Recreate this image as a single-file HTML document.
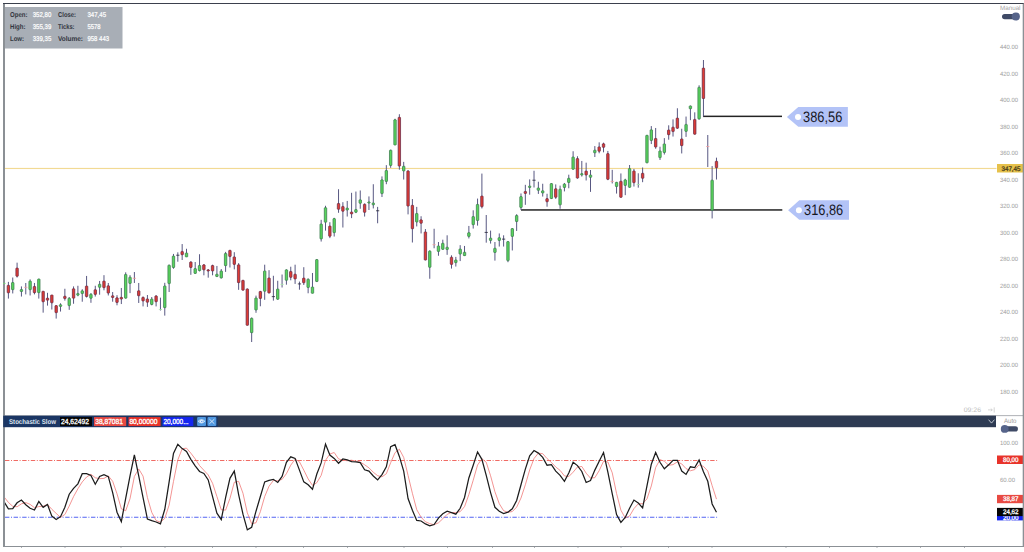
<!DOCTYPE html><html><head><meta charset="utf-8"><title>Chart</title>
<style>html,body{margin:0;padding:0;background:#fff;overflow:hidden}svg{display:block}text{font-family:"Liberation Sans",sans-serif;text-rendering:geometricPrecision}</style></head><body>
<svg width="1024" height="552" viewBox="0 0 1024 552">
<rect x="0" y="0" width="1024" height="552" fill="#ffffff"/>
<rect x="5" y="167.9" width="991.5" height="1.15" fill="#f2da94"/>
<rect x="703" y="115.6" width="79" height="1.5" fill="#242424"/>
<rect x="521" y="209.2" width="261.3" height="1.5" fill="#242424"/>
<line x1="8.40" y1="281.88" x2="8.40" y2="298.59" stroke="#585882" stroke-width="1"/>
<rect x="7.20" y="285.31" width="2.4" height="7.50" rx="0.5" fill="#e03c34" stroke="#6a2a46" stroke-width="0.75"/>
<line x1="12.74" y1="277.50" x2="12.74" y2="293.44" stroke="#585882" stroke-width="1"/>
<rect x="11.54" y="282.50" width="2.4" height="7.19" rx="0.5" fill="#58d65c" stroke="#3a7a4c" stroke-width="0.75"/>
<line x1="17.09" y1="262.66" x2="17.09" y2="277.50" stroke="#585882" stroke-width="1"/>
<rect x="15.89" y="268.12" width="2.4" height="8.12" rx="0.5" fill="#e03c34" stroke="#6a2a46" stroke-width="0.75"/>
<line x1="21.43" y1="286.41" x2="21.43" y2="296.56" stroke="#585882" stroke-width="1"/>
<rect x="20.23" y="289.53" width="2.4" height="2.03" rx="0.5" fill="#58d65c" stroke="#3a7a4c" stroke-width="0.75"/>
<line x1="25.78" y1="282.97" x2="25.78" y2="294.38" stroke="#585882" stroke-width="1"/>
<line x1="24.18" y1="287.34" x2="27.38" y2="287.34" stroke="#f29a9a" stroke-width="0.8"/>
<line x1="30.12" y1="279.38" x2="30.12" y2="295.47" stroke="#585882" stroke-width="1"/>
<rect x="28.92" y="281.09" width="2.4" height="8.59" rx="0.5" fill="#58d65c" stroke="#3a7a4c" stroke-width="0.75"/>
<line x1="34.46" y1="282.97" x2="34.46" y2="294.38" stroke="#585882" stroke-width="1"/>
<rect x="33.26" y="286.41" width="2.4" height="6.25" rx="0.5" fill="#e03c34" stroke="#6a2a46" stroke-width="0.75"/>
<line x1="38.81" y1="278.75" x2="38.81" y2="298.59" stroke="#585882" stroke-width="1"/>
<rect x="37.61" y="279.06" width="2.4" height="13.59" rx="0.5" fill="#58d65c" stroke="#3a7a4c" stroke-width="0.75"/>
<line x1="43.15" y1="291.25" x2="43.15" y2="312.66" stroke="#585882" stroke-width="1"/>
<rect x="41.95" y="291.25" width="2.4" height="10.47" rx="0.5" fill="#e03c34" stroke="#6a2a46" stroke-width="0.75"/>
<line x1="47.50" y1="292.81" x2="47.50" y2="305.62" stroke="#585882" stroke-width="1"/>
<rect x="46.30" y="298.12" width="2.4" height="2.03" rx="0.5" fill="#e03c34" stroke="#6a2a46" stroke-width="0.75"/>
<line x1="51.84" y1="295.00" x2="51.84" y2="309.53" stroke="#585882" stroke-width="1"/>
<rect x="50.64" y="295.00" width="2.4" height="7.81" rx="0.5" fill="#e03c34" stroke="#6a2a46" stroke-width="0.75"/>
<line x1="56.18" y1="305.31" x2="56.18" y2="318.59" stroke="#585882" stroke-width="1"/>
<rect x="54.98" y="305.62" width="2.4" height="7.03" rx="0.5" fill="#e03c34" stroke="#6a2a46" stroke-width="0.75"/>
<line x1="60.53" y1="303.28" x2="60.53" y2="311.56" stroke="#585882" stroke-width="1"/>
<rect x="59.33" y="304.69" width="2.4" height="1.72" rx="0.5" fill="#58d65c" stroke="#3a7a4c" stroke-width="0.75"/>
<line x1="64.87" y1="288.75" x2="64.87" y2="300.62" stroke="#585882" stroke-width="1"/>
<rect x="63.67" y="296.25" width="2.4" height="2.34" rx="0.5" fill="#e03c34" stroke="#6a2a46" stroke-width="0.75"/>
<line x1="69.22" y1="297.03" x2="69.22" y2="309.84" stroke="#585882" stroke-width="1"/>
<rect x="68.02" y="298.28" width="2.4" height="7.34" rx="0.5" fill="#58d65c" stroke="#3a7a4c" stroke-width="0.75"/>
<line x1="73.56" y1="286.41" x2="73.56" y2="303.75" stroke="#585882" stroke-width="1"/>
<rect x="72.36" y="288.75" width="2.4" height="9.38" rx="0.5" fill="#e03c34" stroke="#6a2a46" stroke-width="0.75"/>
<line x1="77.90" y1="285.78" x2="77.90" y2="296.25" stroke="#585882" stroke-width="1"/>
<rect x="76.70" y="293.44" width="2.4" height="1.72" rx="0.5" fill="#58d65c" stroke="#3a7a4c" stroke-width="0.75"/>
<line x1="82.25" y1="289.22" x2="82.25" y2="301.72" stroke="#585882" stroke-width="1"/>
<rect x="81.05" y="290.78" width="2.4" height="2.81" rx="0.5" fill="#58d65c" stroke="#3a7a4c" stroke-width="0.75"/>
<line x1="86.59" y1="275.94" x2="86.59" y2="297.50" stroke="#585882" stroke-width="1"/>
<rect x="85.39" y="286.09" width="2.4" height="10.47" rx="0.5" fill="#e03c34" stroke="#6a2a46" stroke-width="0.75"/>
<line x1="90.94" y1="293.12" x2="90.94" y2="302.81" stroke="#585882" stroke-width="1"/>
<rect x="89.74" y="294.22" width="2.4" height="4.06" rx="0.5" fill="#58d65c" stroke="#3a7a4c" stroke-width="0.75"/>
<line x1="95.28" y1="285.78" x2="95.28" y2="296.56" stroke="#585882" stroke-width="1"/>
<rect x="94.08" y="289.69" width="2.4" height="4.69" rx="0.5" fill="#e03c34" stroke="#6a2a46" stroke-width="0.75"/>
<line x1="99.62" y1="280.94" x2="99.62" y2="294.69" stroke="#585882" stroke-width="1"/>
<rect x="98.42" y="284.22" width="2.4" height="3.12" rx="0.5" fill="#58d65c" stroke="#3a7a4c" stroke-width="0.75"/>
<line x1="103.97" y1="275.16" x2="103.97" y2="290.31" stroke="#585882" stroke-width="1"/>
<rect x="102.77" y="281.09" width="2.4" height="6.56" rx="0.5" fill="#e03c34" stroke="#6a2a46" stroke-width="0.75"/>
<line x1="108.31" y1="282.97" x2="108.31" y2="295.47" stroke="#585882" stroke-width="1"/>
<rect x="107.11" y="285.78" width="2.4" height="7.34" rx="0.5" fill="#e03c34" stroke="#6a2a46" stroke-width="0.75"/>
<line x1="112.66" y1="292.03" x2="112.66" y2="301.72" stroke="#585882" stroke-width="1"/>
<rect x="111.46" y="295.78" width="2.4" height="1.72" rx="0.5" fill="#e03c34" stroke="#6a2a46" stroke-width="0.75"/>
<line x1="117.00" y1="295.16" x2="117.00" y2="305.31" stroke="#585882" stroke-width="1"/>
<rect x="115.80" y="297.81" width="2.4" height="4.69" rx="0.5" fill="#e03c34" stroke="#6a2a46" stroke-width="0.75"/>
<line x1="121.34" y1="287.97" x2="121.34" y2="304.06" stroke="#585882" stroke-width="1"/>
<rect x="120.14" y="297.34" width="2.4" height="1.72" rx="0.5" fill="#e03c34" stroke="#6a2a46" stroke-width="0.75"/>
<line x1="125.69" y1="272.34" x2="125.69" y2="298.59" stroke="#585882" stroke-width="1"/>
<rect x="124.49" y="274.38" width="2.4" height="23.75" rx="0.5" fill="#58d65c" stroke="#3a7a4c" stroke-width="0.75"/>
<line x1="130.03" y1="275.16" x2="130.03" y2="293.12" stroke="#585882" stroke-width="1"/>
<rect x="128.83" y="277.19" width="2.4" height="6.25" rx="0.5" fill="#58d65c" stroke="#3a7a4c" stroke-width="0.75"/>
<line x1="134.38" y1="272.03" x2="134.38" y2="282.97" stroke="#585882" stroke-width="1"/>
<line x1="132.78" y1="278.28" x2="135.98" y2="278.28" stroke="#f29a9a" stroke-width="0.8"/>
<line x1="138.72" y1="282.97" x2="138.72" y2="302.97" stroke="#585882" stroke-width="1"/>
<rect x="137.52" y="290.78" width="2.4" height="5.00" rx="0.5" fill="#e03c34" stroke="#6a2a46" stroke-width="0.75"/>
<line x1="143.06" y1="296.56" x2="143.06" y2="306.41" stroke="#585882" stroke-width="1"/>
<rect x="141.86" y="297.34" width="2.4" height="3.59" rx="0.5" fill="#e03c34" stroke="#6a2a46" stroke-width="0.75"/>
<line x1="147.41" y1="295.00" x2="147.41" y2="306.88" stroke="#585882" stroke-width="1"/>
<rect x="146.21" y="298.91" width="2.4" height="3.28" rx="0.5" fill="#e03c34" stroke="#6a2a46" stroke-width="0.75"/>
<line x1="151.75" y1="297.03" x2="151.75" y2="305.31" stroke="#585882" stroke-width="1"/>
<rect x="150.55" y="299.06" width="2.4" height="5.47" rx="0.5" fill="#58d65c" stroke="#3a7a4c" stroke-width="0.75"/>
<line x1="156.10" y1="295.16" x2="156.10" y2="306.41" stroke="#585882" stroke-width="1"/>
<rect x="154.90" y="295.94" width="2.4" height="5.78" rx="0.5" fill="#e03c34" stroke="#6a2a46" stroke-width="0.75"/>
<line x1="160.44" y1="297.66" x2="160.44" y2="310.47" stroke="#585882" stroke-width="1"/>
<line x1="158.84" y1="309.53" x2="162.04" y2="309.53" stroke="#a6e8a6" stroke-width="0.8"/>
<line x1="164.78" y1="282.81" x2="164.78" y2="315.62" stroke="#585882" stroke-width="1"/>
<rect x="163.58" y="285.94" width="2.4" height="21.72" rx="0.5" fill="#58d65c" stroke="#3a7a4c" stroke-width="0.75"/>
<line x1="169.13" y1="264.69" x2="169.13" y2="292.03" stroke="#585882" stroke-width="1"/>
<rect x="167.93" y="265.16" width="2.4" height="18.44" rx="0.5" fill="#58d65c" stroke="#3a7a4c" stroke-width="0.75"/>
<line x1="173.47" y1="253.91" x2="173.47" y2="268.75" stroke="#585882" stroke-width="1"/>
<rect x="172.27" y="256.09" width="2.4" height="11.41" rx="0.5" fill="#58d65c" stroke="#3a7a4c" stroke-width="0.75"/>
<line x1="177.82" y1="252.34" x2="177.82" y2="261.72" stroke="#585882" stroke-width="1"/>
<line x1="176.22" y1="255.23" x2="179.42" y2="255.23" stroke="#222233" stroke-width="0.8"/>
<line x1="182.16" y1="244.06" x2="182.16" y2="260.00" stroke="#585882" stroke-width="1"/>
<rect x="180.96" y="251.41" width="2.4" height="3.28" rx="0.5" fill="#e03c34" stroke="#6a2a46" stroke-width="0.75"/>
<line x1="186.50" y1="248.75" x2="186.50" y2="256.88" stroke="#585882" stroke-width="1"/>
<rect x="185.30" y="252.97" width="2.4" height="3.91" rx="0.5" fill="#58d65c" stroke="#3a7a4c" stroke-width="0.75"/>
<line x1="190.85" y1="261.25" x2="190.85" y2="274.84" stroke="#585882" stroke-width="1"/>
<rect x="189.65" y="262.03" width="2.4" height="5.47" rx="0.5" fill="#e03c34" stroke="#6a2a46" stroke-width="0.75"/>
<line x1="195.19" y1="262.03" x2="195.19" y2="273.75" stroke="#585882" stroke-width="1"/>
<rect x="193.99" y="268.59" width="2.4" height="4.84" rx="0.5" fill="#58d65c" stroke="#3a7a4c" stroke-width="0.75"/>
<line x1="199.54" y1="254.22" x2="199.54" y2="271.41" stroke="#585882" stroke-width="1"/>
<rect x="198.34" y="265.47" width="2.4" height="5.16" rx="0.5" fill="#58d65c" stroke="#3a7a4c" stroke-width="0.75"/>
<line x1="203.88" y1="264.06" x2="203.88" y2="275.31" stroke="#585882" stroke-width="1"/>
<rect x="202.68" y="264.84" width="2.4" height="5.00" rx="0.5" fill="#e03c34" stroke="#6a2a46" stroke-width="0.75"/>
<line x1="208.22" y1="269.06" x2="208.22" y2="277.66" stroke="#585882" stroke-width="1"/>
<rect x="207.02" y="269.84" width="2.4" height="1.20" rx="0.5" fill="#e03c34" stroke="#6a2a46" stroke-width="0.75"/>
<line x1="212.57" y1="264.69" x2="212.57" y2="275.31" stroke="#585882" stroke-width="1"/>
<rect x="211.37" y="265.47" width="2.4" height="5.47" rx="0.5" fill="#e03c34" stroke="#6a2a46" stroke-width="0.75"/>
<line x1="216.91" y1="265.94" x2="216.91" y2="276.88" stroke="#585882" stroke-width="1"/>
<rect x="215.71" y="274.22" width="2.4" height="2.34" rx="0.5" fill="#58d65c" stroke="#3a7a4c" stroke-width="0.75"/>
<line x1="221.26" y1="269.06" x2="221.26" y2="278.44" stroke="#585882" stroke-width="1"/>
<rect x="220.06" y="270.94" width="2.4" height="7.03" rx="0.5" fill="#58d65c" stroke="#3a7a4c" stroke-width="0.75"/>
<line x1="225.60" y1="251.88" x2="225.60" y2="271.88" stroke="#585882" stroke-width="1"/>
<rect x="224.40" y="253.44" width="2.4" height="12.19" rx="0.5" fill="#58d65c" stroke="#3a7a4c" stroke-width="0.75"/>
<line x1="229.94" y1="250.00" x2="229.94" y2="267.50" stroke="#585882" stroke-width="1"/>
<rect x="228.74" y="250.31" width="2.4" height="6.25" rx="0.5" fill="#e03c34" stroke="#6a2a46" stroke-width="0.75"/>
<line x1="234.29" y1="252.19" x2="234.29" y2="269.38" stroke="#585882" stroke-width="1"/>
<rect x="233.09" y="256.88" width="2.4" height="7.50" rx="0.5" fill="#e03c34" stroke="#6a2a46" stroke-width="0.75"/>
<line x1="238.63" y1="263.12" x2="238.63" y2="289.84" stroke="#585882" stroke-width="1"/>
<rect x="237.43" y="264.84" width="2.4" height="17.81" rx="0.5" fill="#e03c34" stroke="#6a2a46" stroke-width="0.75"/>
<line x1="242.98" y1="280.00" x2="242.98" y2="290.47" stroke="#585882" stroke-width="1"/>
<rect x="241.78" y="280.31" width="2.4" height="9.84" rx="0.5" fill="#e03c34" stroke="#6a2a46" stroke-width="0.75"/>
<line x1="247.32" y1="288.59" x2="247.32" y2="325.31" stroke="#585882" stroke-width="1"/>
<rect x="246.12" y="288.91" width="2.4" height="36.41" rx="0.5" fill="#e03c34" stroke="#6a2a46" stroke-width="0.75"/>
<line x1="251.66" y1="317.50" x2="251.66" y2="342.03" stroke="#585882" stroke-width="1"/>
<rect x="250.46" y="318.28" width="2.4" height="14.38" rx="0.5" fill="#58d65c" stroke="#3a7a4c" stroke-width="0.75"/>
<line x1="256.01" y1="295.62" x2="256.01" y2="312.81" stroke="#585882" stroke-width="1"/>
<rect x="254.81" y="297.97" width="2.4" height="12.03" rx="0.5" fill="#58d65c" stroke="#3a7a4c" stroke-width="0.75"/>
<line x1="260.35" y1="290.94" x2="260.35" y2="306.25" stroke="#585882" stroke-width="1"/>
<rect x="259.15" y="291.41" width="2.4" height="7.03" rx="0.5" fill="#e03c34" stroke="#6a2a46" stroke-width="0.75"/>
<line x1="264.70" y1="264.69" x2="264.70" y2="299.84" stroke="#585882" stroke-width="1"/>
<rect x="263.50" y="270.94" width="2.4" height="20.31" rx="0.5" fill="#58d65c" stroke="#3a7a4c" stroke-width="0.75"/>
<line x1="269.04" y1="270.16" x2="269.04" y2="293.28" stroke="#585882" stroke-width="1"/>
<rect x="267.84" y="277.97" width="2.4" height="15.00" rx="0.5" fill="#e03c34" stroke="#6a2a46" stroke-width="0.75"/>
<line x1="273.38" y1="275.78" x2="273.38" y2="300.62" stroke="#585882" stroke-width="1"/>
<line x1="271.78" y1="296.64" x2="274.98" y2="296.64" stroke="#222233" stroke-width="0.8"/>
<line x1="277.73" y1="280.78" x2="277.73" y2="299.84" stroke="#585882" stroke-width="1"/>
<rect x="276.53" y="289.06" width="2.4" height="10.16" rx="0.5" fill="#58d65c" stroke="#3a7a4c" stroke-width="0.75"/>
<line x1="282.07" y1="274.53" x2="282.07" y2="287.50" stroke="#585882" stroke-width="1"/>
<line x1="280.47" y1="284.38" x2="283.67" y2="284.38" stroke="#a6e8a6" stroke-width="0.8"/>
<line x1="286.42" y1="269.38" x2="286.42" y2="284.69" stroke="#585882" stroke-width="1"/>
<rect x="285.22" y="269.84" width="2.4" height="10.47" rx="0.5" fill="#58d65c" stroke="#3a7a4c" stroke-width="0.75"/>
<line x1="290.76" y1="266.72" x2="290.76" y2="280.31" stroke="#585882" stroke-width="1"/>
<rect x="289.56" y="271.41" width="2.4" height="5.94" rx="0.5" fill="#e03c34" stroke="#6a2a46" stroke-width="0.75"/>
<line x1="295.10" y1="264.69" x2="295.10" y2="283.91" stroke="#585882" stroke-width="1"/>
<rect x="293.90" y="274.22" width="2.4" height="4.69" rx="0.5" fill="#e03c34" stroke="#6a2a46" stroke-width="0.75"/>
<line x1="299.45" y1="281.56" x2="299.45" y2="289.69" stroke="#585882" stroke-width="1"/>
<line x1="297.85" y1="283.91" x2="301.05" y2="283.91" stroke="#222233" stroke-width="0.8"/>
<line x1="303.79" y1="267.19" x2="303.79" y2="285.00" stroke="#585882" stroke-width="1"/>
<rect x="302.59" y="278.12" width="2.4" height="4.69" rx="0.5" fill="#e03c34" stroke="#6a2a46" stroke-width="0.75"/>
<line x1="308.14" y1="278.44" x2="308.14" y2="293.28" stroke="#585882" stroke-width="1"/>
<rect x="306.94" y="279.22" width="2.4" height="8.28" rx="0.5" fill="#58d65c" stroke="#3a7a4c" stroke-width="0.75"/>
<line x1="312.48" y1="272.97" x2="312.48" y2="293.28" stroke="#585882" stroke-width="1"/>
<rect x="311.28" y="287.03" width="2.4" height="6.25" rx="0.5" fill="#58d65c" stroke="#3a7a4c" stroke-width="0.75"/>
<line x1="316.82" y1="259.22" x2="316.82" y2="281.88" stroke="#585882" stroke-width="1"/>
<rect x="315.62" y="259.53" width="2.4" height="22.03" rx="0.5" fill="#58d65c" stroke="#3a7a4c" stroke-width="0.75"/>
<line x1="321.17" y1="219.84" x2="321.17" y2="241.56" stroke="#585882" stroke-width="1"/>
<rect x="319.97" y="224.06" width="2.4" height="14.84" rx="0.5" fill="#58d65c" stroke="#3a7a4c" stroke-width="0.75"/>
<line x1="325.51" y1="205.78" x2="325.51" y2="230.62" stroke="#585882" stroke-width="1"/>
<rect x="324.31" y="207.66" width="2.4" height="14.53" rx="0.5" fill="#58d65c" stroke="#3a7a4c" stroke-width="0.75"/>
<line x1="329.86" y1="222.19" x2="329.86" y2="238.12" stroke="#585882" stroke-width="1"/>
<rect x="328.66" y="226.09" width="2.4" height="10.16" rx="0.5" fill="#e03c34" stroke="#6a2a46" stroke-width="0.75"/>
<line x1="334.20" y1="217.81" x2="334.20" y2="236.56" stroke="#585882" stroke-width="1"/>
<rect x="333.00" y="218.59" width="2.4" height="14.06" rx="0.5" fill="#58d65c" stroke="#3a7a4c" stroke-width="0.75"/>
<line x1="338.54" y1="189.22" x2="338.54" y2="212.81" stroke="#585882" stroke-width="1"/>
<rect x="337.34" y="203.44" width="2.4" height="5.78" rx="0.5" fill="#e03c34" stroke="#6a2a46" stroke-width="0.75"/>
<line x1="342.89" y1="202.19" x2="342.89" y2="227.50" stroke="#585882" stroke-width="1"/>
<rect x="341.69" y="206.41" width="2.4" height="4.84" rx="0.5" fill="#e03c34" stroke="#6a2a46" stroke-width="0.75"/>
<line x1="347.23" y1="200.94" x2="347.23" y2="216.56" stroke="#585882" stroke-width="1"/>
<rect x="346.03" y="208.12" width="2.4" height="1.88" rx="0.5" fill="#58d65c" stroke="#3a7a4c" stroke-width="0.75"/>
<line x1="351.58" y1="192.81" x2="351.58" y2="218.12" stroke="#585882" stroke-width="1"/>
<rect x="350.38" y="212.03" width="2.4" height="1.88" rx="0.5" fill="#e03c34" stroke="#6a2a46" stroke-width="0.75"/>
<line x1="355.92" y1="191.56" x2="355.92" y2="213.12" stroke="#585882" stroke-width="1"/>
<rect x="354.72" y="209.53" width="2.4" height="2.81" rx="0.5" fill="#58d65c" stroke="#3a7a4c" stroke-width="0.75"/>
<line x1="360.26" y1="190.47" x2="360.26" y2="208.75" stroke="#585882" stroke-width="1"/>
<rect x="359.06" y="199.84" width="2.4" height="3.44" rx="0.5" fill="#58d65c" stroke="#3a7a4c" stroke-width="0.75"/>
<line x1="364.61" y1="203.44" x2="364.61" y2="216.56" stroke="#585882" stroke-width="1"/>
<rect x="363.41" y="204.22" width="2.4" height="8.12" rx="0.5" fill="#e03c34" stroke="#6a2a46" stroke-width="0.75"/>
<line x1="368.95" y1="196.41" x2="368.95" y2="210.00" stroke="#585882" stroke-width="1"/>
<rect x="367.75" y="201.88" width="2.4" height="1.20" rx="0.5" fill="#58d65c" stroke="#3a7a4c" stroke-width="0.75"/>
<line x1="373.30" y1="184.22" x2="373.30" y2="208.44" stroke="#585882" stroke-width="1"/>
<rect x="372.10" y="202.97" width="2.4" height="1.88" rx="0.5" fill="#58d65c" stroke="#3a7a4c" stroke-width="0.75"/>
<line x1="377.64" y1="206.88" x2="377.64" y2="223.28" stroke="#585882" stroke-width="1"/>
<line x1="376.04" y1="210.78" x2="379.24" y2="210.78" stroke="#222233" stroke-width="0.8"/>
<line x1="381.98" y1="176.41" x2="381.98" y2="197.03" stroke="#585882" stroke-width="1"/>
<rect x="380.78" y="179.84" width="2.4" height="13.75" rx="0.5" fill="#58d65c" stroke="#3a7a4c" stroke-width="0.75"/>
<line x1="386.33" y1="165.16" x2="386.33" y2="184.22" stroke="#585882" stroke-width="1"/>
<rect x="385.13" y="170.47" width="2.4" height="10.94" rx="0.5" fill="#58d65c" stroke="#3a7a4c" stroke-width="0.75"/>
<line x1="390.67" y1="149.69" x2="390.67" y2="167.81" stroke="#585882" stroke-width="1"/>
<rect x="389.47" y="150.16" width="2.4" height="15.31" rx="0.5" fill="#58d65c" stroke="#3a7a4c" stroke-width="0.75"/>
<line x1="395.02" y1="118.75" x2="395.02" y2="145.00" stroke="#585882" stroke-width="1"/>
<rect x="393.82" y="119.69" width="2.4" height="25.31" rx="0.5" fill="#58d65c" stroke="#3a7a4c" stroke-width="0.75"/>
<line x1="399.36" y1="114.22" x2="399.36" y2="169.69" stroke="#585882" stroke-width="1"/>
<rect x="398.16" y="117.34" width="2.4" height="48.75" rx="0.5" fill="#e03c34" stroke="#6a2a46" stroke-width="0.75"/>
<line x1="403.70" y1="161.88" x2="403.70" y2="179.53" stroke="#585882" stroke-width="1"/>
<rect x="402.50" y="166.25" width="2.4" height="4.69" rx="0.5" fill="#58d65c" stroke="#3a7a4c" stroke-width="0.75"/>
<line x1="408.05" y1="170.16" x2="408.05" y2="214.38" stroke="#585882" stroke-width="1"/>
<rect x="406.85" y="170.94" width="2.4" height="35.16" rx="0.5" fill="#e03c34" stroke="#6a2a46" stroke-width="0.75"/>
<line x1="412.39" y1="199.06" x2="412.39" y2="242.50" stroke="#585882" stroke-width="1"/>
<rect x="411.19" y="205.31" width="2.4" height="23.44" rx="0.5" fill="#e03c34" stroke="#6a2a46" stroke-width="0.75"/>
<line x1="416.74" y1="206.88" x2="416.74" y2="226.41" stroke="#585882" stroke-width="1"/>
<rect x="415.54" y="213.44" width="2.4" height="8.59" rx="0.5" fill="#58d65c" stroke="#3a7a4c" stroke-width="0.75"/>
<line x1="421.08" y1="216.25" x2="421.08" y2="233.44" stroke="#585882" stroke-width="1"/>
<rect x="419.88" y="219.84" width="2.4" height="3.44" rx="0.5" fill="#e03c34" stroke="#6a2a46" stroke-width="0.75"/>
<line x1="425.42" y1="229.06" x2="425.42" y2="260.31" stroke="#585882" stroke-width="1"/>
<rect x="424.22" y="231.88" width="2.4" height="28.12" rx="0.5" fill="#e03c34" stroke="#6a2a46" stroke-width="0.75"/>
<line x1="429.77" y1="250.31" x2="429.77" y2="278.75" stroke="#585882" stroke-width="1"/>
<rect x="428.57" y="251.09" width="2.4" height="16.25" rx="0.5" fill="#58d65c" stroke="#3a7a4c" stroke-width="0.75"/>
<line x1="434.11" y1="228.75" x2="434.11" y2="248.28" stroke="#585882" stroke-width="1"/>
<line x1="432.51" y1="244.69" x2="435.71" y2="244.69" stroke="#f29a9a" stroke-width="0.8"/>
<line x1="438.46" y1="242.03" x2="438.46" y2="255.78" stroke="#585882" stroke-width="1"/>
<rect x="437.26" y="245.94" width="2.4" height="5.47" rx="0.5" fill="#58d65c" stroke="#3a7a4c" stroke-width="0.75"/>
<line x1="442.80" y1="239.69" x2="442.80" y2="249.84" stroke="#585882" stroke-width="1"/>
<rect x="441.60" y="243.28" width="2.4" height="6.09" rx="0.5" fill="#58d65c" stroke="#3a7a4c" stroke-width="0.75"/>
<line x1="447.14" y1="235.31" x2="447.14" y2="254.84" stroke="#585882" stroke-width="1"/>
<rect x="445.94" y="247.19" width="2.4" height="2.34" rx="0.5" fill="#58d65c" stroke="#3a7a4c" stroke-width="0.75"/>
<line x1="451.49" y1="255.31" x2="451.49" y2="268.59" stroke="#585882" stroke-width="1"/>
<rect x="450.29" y="257.19" width="2.4" height="7.19" rx="0.5" fill="#e03c34" stroke="#6a2a46" stroke-width="0.75"/>
<line x1="455.83" y1="256.88" x2="455.83" y2="266.56" stroke="#585882" stroke-width="1"/>
<rect x="454.63" y="260.00" width="2.4" height="2.66" rx="0.5" fill="#58d65c" stroke="#3a7a4c" stroke-width="0.75"/>
<line x1="460.18" y1="245.16" x2="460.18" y2="261.09" stroke="#585882" stroke-width="1"/>
<rect x="458.98" y="249.06" width="2.4" height="5.00" rx="0.5" fill="#58d65c" stroke="#3a7a4c" stroke-width="0.75"/>
<line x1="464.52" y1="245.94" x2="464.52" y2="255.62" stroke="#585882" stroke-width="1"/>
<rect x="463.32" y="252.19" width="2.4" height="3.44" rx="0.5" fill="#58d65c" stroke="#3a7a4c" stroke-width="0.75"/>
<line x1="468.86" y1="225.94" x2="468.86" y2="238.44" stroke="#585882" stroke-width="1"/>
<rect x="467.66" y="232.66" width="2.4" height="3.75" rx="0.5" fill="#58d65c" stroke="#3a7a4c" stroke-width="0.75"/>
<line x1="473.21" y1="210.31" x2="473.21" y2="228.59" stroke="#585882" stroke-width="1"/>
<rect x="472.01" y="216.56" width="2.4" height="8.12" rx="0.5" fill="#58d65c" stroke="#3a7a4c" stroke-width="0.75"/>
<line x1="477.55" y1="198.59" x2="477.55" y2="225.62" stroke="#585882" stroke-width="1"/>
<rect x="476.35" y="204.38" width="2.4" height="16.09" rx="0.5" fill="#58d65c" stroke="#3a7a4c" stroke-width="0.75"/>
<line x1="481.90" y1="173.59" x2="481.90" y2="208.44" stroke="#585882" stroke-width="1"/>
<rect x="480.70" y="196.09" width="2.4" height="10.62" rx="0.5" fill="#e03c34" stroke="#6a2a46" stroke-width="0.75"/>
<line x1="486.24" y1="215.00" x2="486.24" y2="242.66" stroke="#585882" stroke-width="1"/>
<line x1="484.64" y1="232.42" x2="487.84" y2="232.42" stroke="#222233" stroke-width="0.8"/>
<line x1="490.58" y1="230.62" x2="490.58" y2="243.59" stroke="#585882" stroke-width="1"/>
<rect x="489.38" y="238.12" width="2.4" height="2.34" rx="0.5" fill="#58d65c" stroke="#3a7a4c" stroke-width="0.75"/>
<line x1="494.93" y1="242.03" x2="494.93" y2="260.62" stroke="#585882" stroke-width="1"/>
<rect x="493.73" y="248.28" width="2.4" height="4.22" rx="0.5" fill="#58d65c" stroke="#3a7a4c" stroke-width="0.75"/>
<line x1="499.27" y1="233.44" x2="499.27" y2="246.56" stroke="#585882" stroke-width="1"/>
<rect x="498.07" y="237.66" width="2.4" height="2.81" rx="0.5" fill="#58d65c" stroke="#3a7a4c" stroke-width="0.75"/>
<line x1="503.62" y1="235.31" x2="503.62" y2="246.56" stroke="#585882" stroke-width="1"/>
<line x1="502.02" y1="239.14" x2="505.22" y2="239.14" stroke="#222233" stroke-width="0.8"/>
<line x1="507.96" y1="241.25" x2="507.96" y2="262.19" stroke="#585882" stroke-width="1"/>
<rect x="506.76" y="241.56" width="2.4" height="19.06" rx="0.5" fill="#58d65c" stroke="#3a7a4c" stroke-width="0.75"/>
<line x1="512.30" y1="228.28" x2="512.30" y2="250.47" stroke="#585882" stroke-width="1"/>
<rect x="511.10" y="228.59" width="2.4" height="7.81" rx="0.5" fill="#58d65c" stroke="#3a7a4c" stroke-width="0.75"/>
<line x1="516.65" y1="214.22" x2="516.65" y2="230.94" stroke="#585882" stroke-width="1"/>
<rect x="515.45" y="215.47" width="2.4" height="6.09" rx="0.5" fill="#58d65c" stroke="#3a7a4c" stroke-width="0.75"/>
<line x1="520.99" y1="193.44" x2="520.99" y2="210.00" stroke="#585882" stroke-width="1"/>
<rect x="519.79" y="196.56" width="2.4" height="10.94" rx="0.5" fill="#58d65c" stroke="#3a7a4c" stroke-width="0.75"/>
<line x1="525.34" y1="184.84" x2="525.34" y2="204.84" stroke="#585882" stroke-width="1"/>
<rect x="524.14" y="191.41" width="2.4" height="2.03" rx="0.5" fill="#e03c34" stroke="#6a2a46" stroke-width="0.75"/>
<line x1="529.68" y1="179.38" x2="529.68" y2="194.69" stroke="#585882" stroke-width="1"/>
<rect x="528.48" y="186.09" width="2.4" height="1.41" rx="0.5" fill="#58d65c" stroke="#3a7a4c" stroke-width="0.75"/>
<line x1="534.02" y1="170.78" x2="534.02" y2="187.50" stroke="#585882" stroke-width="1"/>
<line x1="532.42" y1="180.23" x2="535.62" y2="180.23" stroke="#222233" stroke-width="0.8"/>
<line x1="538.37" y1="181.72" x2="538.37" y2="193.91" stroke="#585882" stroke-width="1"/>
<rect x="537.17" y="187.97" width="2.4" height="2.34" rx="0.5" fill="#58d65c" stroke="#3a7a4c" stroke-width="0.75"/>
<line x1="542.71" y1="183.75" x2="542.71" y2="196.56" stroke="#585882" stroke-width="1"/>
<rect x="541.51" y="190.78" width="2.4" height="2.19" rx="0.5" fill="#58d65c" stroke="#3a7a4c" stroke-width="0.75"/>
<line x1="547.06" y1="193.75" x2="547.06" y2="206.72" stroke="#585882" stroke-width="1"/>
<rect x="545.86" y="198.59" width="2.4" height="3.12" rx="0.5" fill="#e03c34" stroke="#6a2a46" stroke-width="0.75"/>
<line x1="551.40" y1="183.28" x2="551.40" y2="198.91" stroke="#585882" stroke-width="1"/>
<rect x="550.20" y="183.59" width="2.4" height="15.00" rx="0.5" fill="#58d65c" stroke="#3a7a4c" stroke-width="0.75"/>
<line x1="555.74" y1="184.38" x2="555.74" y2="198.91" stroke="#585882" stroke-width="1"/>
<rect x="554.54" y="188.75" width="2.4" height="8.59" rx="0.5" fill="#e03c34" stroke="#6a2a46" stroke-width="0.75"/>
<line x1="560.09" y1="185.62" x2="560.09" y2="208.75" stroke="#585882" stroke-width="1"/>
<rect x="558.89" y="189.22" width="2.4" height="15.62" rx="0.5" fill="#58d65c" stroke="#3a7a4c" stroke-width="0.75"/>
<line x1="564.43" y1="182.97" x2="564.43" y2="191.41" stroke="#585882" stroke-width="1"/>
<rect x="563.23" y="184.06" width="2.4" height="3.44" rx="0.5" fill="#58d65c" stroke="#3a7a4c" stroke-width="0.75"/>
<line x1="568.78" y1="174.69" x2="568.78" y2="188.28" stroke="#585882" stroke-width="1"/>
<rect x="567.58" y="178.28" width="2.4" height="4.22" rx="0.5" fill="#58d65c" stroke="#3a7a4c" stroke-width="0.75"/>
<line x1="573.12" y1="151.25" x2="573.12" y2="169.69" stroke="#585882" stroke-width="1"/>
<rect x="571.92" y="157.03" width="2.4" height="12.19" rx="0.5" fill="#58d65c" stroke="#3a7a4c" stroke-width="0.75"/>
<line x1="577.46" y1="156.25" x2="577.46" y2="178.59" stroke="#585882" stroke-width="1"/>
<rect x="576.26" y="158.59" width="2.4" height="19.53" rx="0.5" fill="#e03c34" stroke="#6a2a46" stroke-width="0.75"/>
<line x1="581.81" y1="160.94" x2="581.81" y2="176.56" stroke="#585882" stroke-width="1"/>
<rect x="580.61" y="173.59" width="2.4" height="1.41" rx="0.5" fill="#58d65c" stroke="#3a7a4c" stroke-width="0.75"/>
<line x1="586.15" y1="162.66" x2="586.15" y2="180.47" stroke="#585882" stroke-width="1"/>
<rect x="584.95" y="171.09" width="2.4" height="3.91" rx="0.5" fill="#e03c34" stroke="#6a2a46" stroke-width="0.75"/>
<line x1="590.50" y1="170.00" x2="590.50" y2="191.88" stroke="#585882" stroke-width="1"/>
<rect x="589.30" y="175.00" width="2.4" height="2.34" rx="0.5" fill="#58d65c" stroke="#3a7a4c" stroke-width="0.75"/>
<line x1="594.84" y1="146.09" x2="594.84" y2="157.03" stroke="#585882" stroke-width="1"/>
<rect x="593.64" y="150.16" width="2.4" height="2.66" rx="0.5" fill="#58d65c" stroke="#3a7a4c" stroke-width="0.75"/>
<line x1="599.18" y1="142.34" x2="599.18" y2="153.28" stroke="#585882" stroke-width="1"/>
<rect x="597.98" y="146.88" width="2.4" height="4.38" rx="0.5" fill="#e03c34" stroke="#6a2a46" stroke-width="0.75"/>
<line x1="603.53" y1="142.66" x2="603.53" y2="152.34" stroke="#585882" stroke-width="1"/>
<rect x="602.33" y="143.75" width="2.4" height="3.59" rx="0.5" fill="#e03c34" stroke="#6a2a46" stroke-width="0.75"/>
<line x1="607.87" y1="150.94" x2="607.87" y2="180.16" stroke="#585882" stroke-width="1"/>
<rect x="606.67" y="153.59" width="2.4" height="25.78" rx="0.5" fill="#e03c34" stroke="#6a2a46" stroke-width="0.75"/>
<line x1="612.22" y1="169.84" x2="612.22" y2="183.44" stroke="#585882" stroke-width="1"/>
<line x1="610.62" y1="181.41" x2="613.82" y2="181.41" stroke="#f29a9a" stroke-width="0.8"/>
<line x1="616.56" y1="181.88" x2="616.56" y2="193.59" stroke="#585882" stroke-width="1"/>
<rect x="615.36" y="182.34" width="2.4" height="4.22" rx="0.5" fill="#58d65c" stroke="#3a7a4c" stroke-width="0.75"/>
<line x1="620.90" y1="173.44" x2="620.90" y2="197.66" stroke="#585882" stroke-width="1"/>
<rect x="619.70" y="181.25" width="2.4" height="16.09" rx="0.5" fill="#e03c34" stroke="#6a2a46" stroke-width="0.75"/>
<line x1="625.25" y1="178.75" x2="625.25" y2="195.16" stroke="#585882" stroke-width="1"/>
<rect x="624.05" y="179.84" width="2.4" height="5.62" rx="0.5" fill="#58d65c" stroke="#3a7a4c" stroke-width="0.75"/>
<line x1="629.59" y1="165.00" x2="629.59" y2="187.66" stroke="#585882" stroke-width="1"/>
<rect x="628.39" y="168.59" width="2.4" height="18.75" rx="0.5" fill="#58d65c" stroke="#3a7a4c" stroke-width="0.75"/>
<line x1="633.94" y1="168.91" x2="633.94" y2="186.56" stroke="#585882" stroke-width="1"/>
<rect x="632.74" y="170.94" width="2.4" height="11.72" rx="0.5" fill="#e03c34" stroke="#6a2a46" stroke-width="0.75"/>
<line x1="638.28" y1="173.28" x2="638.28" y2="187.66" stroke="#585882" stroke-width="1"/>
<line x1="636.68" y1="184.53" x2="639.88" y2="184.53" stroke="#a6e8a6" stroke-width="0.8"/>
<line x1="642.62" y1="167.50" x2="642.62" y2="182.19" stroke="#585882" stroke-width="1"/>
<rect x="641.42" y="173.28" width="2.4" height="5.00" rx="0.5" fill="#e03c34" stroke="#6a2a46" stroke-width="0.75"/>
<line x1="646.97" y1="135.00" x2="646.97" y2="163.12" stroke="#585882" stroke-width="1"/>
<rect x="645.77" y="135.31" width="2.4" height="27.50" rx="0.5" fill="#58d65c" stroke="#3a7a4c" stroke-width="0.75"/>
<line x1="651.31" y1="126.09" x2="651.31" y2="144.06" stroke="#585882" stroke-width="1"/>
<rect x="650.11" y="129.84" width="2.4" height="10.62" rx="0.5" fill="#58d65c" stroke="#3a7a4c" stroke-width="0.75"/>
<line x1="655.66" y1="127.97" x2="655.66" y2="148.75" stroke="#585882" stroke-width="1"/>
<rect x="654.46" y="138.44" width="2.4" height="8.59" rx="0.5" fill="#e03c34" stroke="#6a2a46" stroke-width="0.75"/>
<line x1="660.00" y1="146.72" x2="660.00" y2="160.00" stroke="#585882" stroke-width="1"/>
<rect x="658.80" y="150.94" width="2.4" height="6.72" rx="0.5" fill="#58d65c" stroke="#3a7a4c" stroke-width="0.75"/>
<line x1="664.34" y1="138.12" x2="664.34" y2="154.53" stroke="#585882" stroke-width="1"/>
<rect x="663.14" y="143.91" width="2.4" height="8.59" rx="0.5" fill="#58d65c" stroke="#3a7a4c" stroke-width="0.75"/>
<line x1="668.69" y1="125.31" x2="668.69" y2="139.69" stroke="#585882" stroke-width="1"/>
<rect x="667.49" y="130.00" width="2.4" height="4.69" rx="0.5" fill="#e03c34" stroke="#6a2a46" stroke-width="0.75"/>
<line x1="673.03" y1="119.38" x2="673.03" y2="136.56" stroke="#585882" stroke-width="1"/>
<rect x="671.83" y="127.19" width="2.4" height="4.38" rx="0.5" fill="#e03c34" stroke="#6a2a46" stroke-width="0.75"/>
<line x1="677.38" y1="108.28" x2="677.38" y2="128.75" stroke="#585882" stroke-width="1"/>
<rect x="676.18" y="118.12" width="2.4" height="10.16" rx="0.5" fill="#e03c34" stroke="#6a2a46" stroke-width="0.75"/>
<line x1="681.72" y1="128.75" x2="681.72" y2="153.44" stroke="#585882" stroke-width="1"/>
<rect x="680.52" y="138.91" width="2.4" height="6.72" rx="0.5" fill="#e03c34" stroke="#6a2a46" stroke-width="0.75"/>
<line x1="686.06" y1="116.56" x2="686.06" y2="136.88" stroke="#585882" stroke-width="1"/>
<rect x="684.86" y="124.38" width="2.4" height="7.03" rx="0.5" fill="#58d65c" stroke="#3a7a4c" stroke-width="0.75"/>
<line x1="690.41" y1="105.62" x2="690.41" y2="120.16" stroke="#585882" stroke-width="1"/>
<rect x="689.21" y="105.94" width="2.4" height="2.81" rx="0.5" fill="#58d65c" stroke="#3a7a4c" stroke-width="0.75"/>
<line x1="694.75" y1="112.34" x2="694.75" y2="134.53" stroke="#585882" stroke-width="1"/>
<rect x="693.55" y="119.38" width="2.4" height="14.84" rx="0.5" fill="#e03c34" stroke="#6a2a46" stroke-width="0.75"/>
<line x1="699.10" y1="85.31" x2="699.10" y2="119.69" stroke="#585882" stroke-width="1"/>
<rect x="697.90" y="87.34" width="2.4" height="31.56" rx="0.5" fill="#58d65c" stroke="#3a7a4c" stroke-width="0.75"/>
<line x1="703.44" y1="60.00" x2="703.44" y2="116.56" stroke="#585882" stroke-width="1"/>
<rect x="702.24" y="68.12" width="2.4" height="30.47" rx="0.5" fill="#e03c34" stroke="#6a2a46" stroke-width="0.75"/>
<line x1="707.78" y1="135.00" x2="707.78" y2="167.03" stroke="#585882" stroke-width="1"/>
<line x1="706.18" y1="146.56" x2="709.38" y2="146.56" stroke="#f29a9a" stroke-width="0.8"/>
<line x1="712.13" y1="166.09" x2="712.13" y2="218.44" stroke="#585882" stroke-width="1"/>
<rect x="710.93" y="180.16" width="2.4" height="30.00" rx="0.5" fill="#58d65c" stroke="#3a7a4c" stroke-width="0.75"/>
<line x1="716.47" y1="157.66" x2="716.47" y2="179.53" stroke="#585882" stroke-width="1"/>
<rect x="715.27" y="161.25" width="2.4" height="6.56" rx="0.5" fill="#e03c34" stroke="#6a2a46" stroke-width="0.75"/>
<path d="M786.9,116.9 L798.3,107 L847.9,107 L847.9,126.7 L798.3,126.7 Z" fill="#b3c3f7"/>
<circle cx="798" cy="116.9" r="3" fill="#ffffff"/>
<text x="803" y="121.9" font-size="15.2" fill="#16161f" textLength="39.3" lengthAdjust="spacingAndGlyphs">386,56</text>
<path d="M788.1,210.2 L799.3,200.2 L849,200.2 L849,219.8 L799.3,219.8 Z" fill="#b3c3f7"/>
<circle cx="798.9" cy="210.2" r="3" fill="#ffffff"/>
<text x="804.1" y="215" font-size="15.2" fill="#16161f" textLength="39.1" lengthAdjust="spacingAndGlyphs">316,86</text>
<rect x="5" y="7" width="117.5" height="41.5" fill="#a8aeb6"/>
<text x="10" y="17.4" font-size="7" fill="#33363f" font-weight="bold" text-anchor="start" textLength="17.5" lengthAdjust="spacingAndGlyphs">Open:</text>
<text x="32.75" y="17.4" font-size="7" fill="#ffffff" font-weight="normal" text-anchor="start" textLength="18.5" lengthAdjust="spacingAndGlyphs" stroke="#ffffff" stroke-width="0.22">352,80</text>
<text x="58" y="17.4" font-size="7" fill="#33363f" font-weight="bold" text-anchor="start" textLength="18" lengthAdjust="spacingAndGlyphs">Close:</text>
<text x="87.5" y="17.4" font-size="7" fill="#ffffff" font-weight="normal" text-anchor="start" textLength="18.5" lengthAdjust="spacingAndGlyphs" stroke="#ffffff" stroke-width="0.22">347,45</text>
<text x="10" y="29.3" font-size="7" fill="#33363f" font-weight="bold" text-anchor="start" textLength="15.5" lengthAdjust="spacingAndGlyphs">High:</text>
<text x="32.75" y="29.3" font-size="7" fill="#ffffff" font-weight="normal" text-anchor="start" textLength="18.5" lengthAdjust="spacingAndGlyphs" stroke="#ffffff" stroke-width="0.22">355,39</text>
<text x="58" y="29.3" font-size="7" fill="#33363f" font-weight="bold" text-anchor="start" textLength="16.5" lengthAdjust="spacingAndGlyphs">Ticks:</text>
<text x="87.5" y="29.3" font-size="7" fill="#ffffff" font-weight="normal" text-anchor="start" textLength="13" lengthAdjust="spacingAndGlyphs" stroke="#ffffff" stroke-width="0.22">5578</text>
<text x="10" y="41.2" font-size="7" fill="#33363f" font-weight="bold" text-anchor="start" textLength="14" lengthAdjust="spacingAndGlyphs">Low:</text>
<text x="32.75" y="41.2" font-size="7" fill="#ffffff" font-weight="normal" text-anchor="start" textLength="18.5" lengthAdjust="spacingAndGlyphs" stroke="#ffffff" stroke-width="0.22">339,35</text>
<text x="58" y="41.2" font-size="7" fill="#33363f" font-weight="bold" text-anchor="start" textLength="25" lengthAdjust="spacingAndGlyphs">Volume:</text>
<text x="87.5" y="41.2" font-size="7" fill="#ffffff" font-weight="normal" text-anchor="start" textLength="21.5" lengthAdjust="spacingAndGlyphs" stroke="#ffffff" stroke-width="0.22">958 443</text>
<text x="1000" y="49.2" font-size="6.2" fill="#9e9e9e" font-weight="normal" text-anchor="start" textLength="18" lengthAdjust="spacingAndGlyphs">440.00</text>
<text x="1000" y="75.7" font-size="6.2" fill="#9e9e9e" font-weight="normal" text-anchor="start" textLength="18" lengthAdjust="spacingAndGlyphs">420.00</text>
<text x="1000" y="102.2" font-size="6.2" fill="#9e9e9e" font-weight="normal" text-anchor="start" textLength="18" lengthAdjust="spacingAndGlyphs">400.00</text>
<text x="1000" y="128.7" font-size="6.2" fill="#9e9e9e" font-weight="normal" text-anchor="start" textLength="18" lengthAdjust="spacingAndGlyphs">380.00</text>
<text x="1000" y="155.2" font-size="6.2" fill="#9e9e9e" font-weight="normal" text-anchor="start" textLength="18" lengthAdjust="spacingAndGlyphs">360.00</text>
<text x="1000" y="181.7" font-size="6.2" fill="#9e9e9e" font-weight="normal" text-anchor="start" textLength="18" lengthAdjust="spacingAndGlyphs">340.00</text>
<text x="1000" y="208.2" font-size="6.2" fill="#9e9e9e" font-weight="normal" text-anchor="start" textLength="18" lengthAdjust="spacingAndGlyphs">320.00</text>
<text x="1000" y="234.7" font-size="6.2" fill="#9e9e9e" font-weight="normal" text-anchor="start" textLength="18" lengthAdjust="spacingAndGlyphs">300.00</text>
<text x="1000" y="261.2" font-size="6.2" fill="#9e9e9e" font-weight="normal" text-anchor="start" textLength="18" lengthAdjust="spacingAndGlyphs">280.00</text>
<text x="1000" y="287.7" font-size="6.2" fill="#9e9e9e" font-weight="normal" text-anchor="start" textLength="18" lengthAdjust="spacingAndGlyphs">260.00</text>
<text x="1000" y="314.2" font-size="6.2" fill="#9e9e9e" font-weight="normal" text-anchor="start" textLength="18" lengthAdjust="spacingAndGlyphs">240.00</text>
<text x="1000" y="340.7" font-size="6.2" fill="#9e9e9e" font-weight="normal" text-anchor="start" textLength="18" lengthAdjust="spacingAndGlyphs">220.00</text>
<text x="1000" y="367.2" font-size="6.2" fill="#9e9e9e" font-weight="normal" text-anchor="start" textLength="18" lengthAdjust="spacingAndGlyphs">200.00</text>
<text x="1000" y="393.7" font-size="6.2" fill="#9e9e9e" font-weight="normal" text-anchor="start" textLength="18" lengthAdjust="spacingAndGlyphs">180.00</text>
<rect x="997" y="164" width="26" height="8.5" fill="#e6c14b"/>
<text x="1001.5" y="171" font-size="6.6" fill="#4a3f1c" font-weight="normal" text-anchor="start" textLength="19" lengthAdjust="spacingAndGlyphs" stroke="#4a3f1c" stroke-width="0.3">347,45</text>
<text x="1000" y="9.9" font-size="6.3" fill="#a4a4a4" font-weight="normal" text-anchor="start" textLength="20.5" lengthAdjust="spacingAndGlyphs">Manual</text>
<rect x="1002" y="13.9" width="16.5" height="5.4" rx="2.7" fill="#3f4a66"/>
<circle cx="1015.8" cy="16.5" r="4.1" fill="#56648a"/>
<text x="963.7" y="412.2" font-size="6.6" fill="#bcbcbc" font-weight="normal" text-anchor="start" textLength="17.3" lengthAdjust="spacingAndGlyphs">09:26</text>
<path d="M988,409.9 H992.3 M990.8,408.6 L992.3,409.9 L990.8,411.2 M994.2,407.3 V412.6" stroke="#c4c4c4" stroke-width="0.7" fill="none"/>
<rect x="5" y="415.3" width="1018" height="0.8" fill="#9a9da3"/>
<rect x="3.2" y="415.7" width="214.8" height="11.5" fill="#1b3664"/>
<rect x="218" y="415.7" width="778" height="11.5" fill="#2e3b53"/>
<text x="9" y="424.3" font-size="6.9" fill="#dde4f0" font-weight="bold" text-anchor="start" textLength="47" lengthAdjust="spacingAndGlyphs">Stochastic Slow</text>
<rect x="60" y="417.1" width="32.0" height="9" fill="#050505"/>
<text x="61.0" y="424.4" font-size="7.3" fill="#ffffff" font-weight="normal" text-anchor="start" textLength="28" lengthAdjust="spacingAndGlyphs" stroke="#ffffff" stroke-width="0.3">24,62492</text>
<rect x="94" y="417.1" width="32.2" height="9" fill="#e84a42"/>
<text x="95.2" y="424.4" font-size="7.3" fill="#ffffff" font-weight="normal" text-anchor="start" textLength="27.8" lengthAdjust="spacingAndGlyphs" stroke="#ffffff" stroke-width="0.3">38,87081</text>
<rect x="128.5" y="417.1" width="32.1" height="9" fill="#e8332a"/>
<text x="129.4" y="424.4" font-size="7.3" fill="#ffffff" font-weight="normal" text-anchor="start" textLength="28" lengthAdjust="spacingAndGlyphs" stroke="#ffffff" stroke-width="0.3">80,00000</text>
<rect x="162.5" y="417.1" width="30.8" height="9" fill="#1426f0"/>
<text x="163.4" y="424.4" font-size="7.3" fill="#ffffff" font-weight="normal" text-anchor="start" textLength="25.2" lengthAdjust="spacingAndGlyphs" stroke="#ffffff" stroke-width="0.3">20,000...</text>
<rect x="197.1" y="417.1" width="8.9" height="8.8" rx="1" fill="#4f97e0"/>
<rect x="207.5" y="417.1" width="8.8" height="8.8" rx="1" fill="#4f97e0"/>
<path d="M198.1,421.3 Q201.5,417.9 204.9,421.3 Q201.5,424.7 198.1,421.3 Z" fill="#7fb4ea" stroke="#e9f1fa" stroke-width="0.7"/><circle cx="201.5" cy="421.3" r="1.55" fill="#eef4fb"/><circle cx="201.8" cy="421.4" r="0.6" fill="#3f7fe0"/>
<path d="M209.4,419.1 L214.4,423.8 M214.4,419.1 L209.4,423.8" stroke="#dbe7f5" stroke-width="0.95" fill="none"/>
<path d="M988.6,419.7 L991.5,423.1 L994.4,419.7" stroke="#e0e4ec" stroke-width="0.8" fill="none"/>
<text x="1003.9" y="422.6" font-size="6.5" fill="#9c9c9c" font-weight="normal" text-anchor="start" textLength="12.6" lengthAdjust="spacingAndGlyphs">Auto</text>
<rect x="1001.5" y="426.2" width="16.5" height="5.4" rx="2.7" fill="#3f4a66"/>
<circle cx="1004.7" cy="428.9" r="3.9" fill="#56648a"/>
<line x1="5" y1="460.5" x2="717.1" y2="460.5" stroke="#ee5a52" stroke-width="0.9" stroke-dasharray="4.4 1.6 1 1.6"/>
<line x1="5" y1="517.25" x2="717.1" y2="517.25" stroke="#3f52f0" stroke-width="0.9" stroke-dasharray="4.4 1.6 1 1.6"/>
<polyline points="3.80,496.54 8.40,502.41 12.74,506.32 17.09,506.78 21.43,503.84 25.78,502.54 30.12,504.36 34.46,507.69 38.81,506.58 43.15,506.26 47.50,504.43 51.84,509.32 56.18,513.37 60.53,517.41 64.87,514.47 69.22,506.06 73.56,496.60 77.90,488.77 82.25,481.92 86.59,477.03 90.94,474.23 95.28,477.75 99.62,478.66 103.97,478.40 108.31,475.86 112.66,481.27 117.00,493.80 121.34,508.80 125.69,510.76 130.03,498.69 134.38,476.44 138.72,468.94 143.06,476.12 147.41,497.51 151.75,512.39 156.10,520.54 160.44,522.17 164.78,518.39 169.13,505.02 173.47,481.53 177.82,459.88 182.16,448.79 186.50,448.13 190.85,453.16 195.19,458.90 199.54,465.55 203.88,470.25 208.22,474.94 212.57,483.29 216.91,496.54 221.26,509.78 225.60,510.10 229.94,498.49 234.29,482.32 238.63,481.34 242.98,493.27 247.32,512.84 251.66,523.74 256.01,522.76 260.35,511.67 264.70,496.54 269.04,486.23 273.38,480.49 277.73,480.68 282.07,479.38 286.42,473.71 290.76,465.16 295.10,459.16 299.45,461.77 303.79,470.12 308.14,478.92 312.48,485.32 316.82,482.71 321.17,475.40 325.51,460.33 329.86,454.01 334.20,452.50 338.54,458.90 342.89,460.20 347.23,460.72 351.58,460.20 355.92,461.18 360.26,462.09 364.61,464.77 368.95,467.83 373.30,472.27 377.64,475.66 381.98,476.84 386.33,473.77 390.67,462.68 395.02,452.70 399.36,449.24 403.70,457.40 408.05,475.34 412.39,493.27 416.74,509.71 421.08,517.21 425.42,521.78 429.77,523.61 434.11,524.78 438.46,522.82 442.80,518.78 447.14,514.34 451.49,512.52 455.83,512.65 460.18,511.67 464.52,506.65 468.86,494.58 473.21,480.23 477.55,465.03 481.90,458.83 486.24,462.22 490.58,475.79 494.93,491.77 499.27,503.71 503.62,510.69 507.96,512.32 512.30,511.54 516.65,507.17 520.99,498.04 525.34,484.79 529.68,469.92 534.02,458.51 538.37,453.16 542.71,453.68 547.06,458.57 551.40,462.42 555.74,466.99 560.09,470.38 564.43,475.92 568.78,476.58 573.12,472.20 577.46,466.99 581.81,466.46 586.15,473.18 590.50,478.14 594.84,477.68 599.18,470.64 603.53,461.31 607.87,461.96 612.22,472.73 616.56,493.41 620.90,510.17 625.25,518.13 629.59,516.04 633.94,508.60 638.28,503.78 642.62,503.65 646.97,498.88 651.31,485.97 655.66,467.51 660.00,459.68 664.34,461.18 668.69,465.29 673.03,464.64 677.38,461.83 681.72,463.92 686.06,468.62 690.41,470.77 694.75,469.60 699.10,464.77 703.44,466.40 707.78,470.97 712.13,485.64 716.47,499.15" fill="none" stroke="#f07a78" stroke-width="0.8" stroke-linejoin="round"/>
<polyline points="3.80,501.43 8.40,508.86 12.74,508.67 17.09,502.80 21.43,500.06 25.78,504.76 30.12,508.28 34.46,510.04 38.81,501.43 43.15,507.30 47.50,504.56 51.84,516.11 56.18,519.43 60.53,516.69 64.87,507.30 69.22,494.19 73.56,488.32 77.90,483.82 82.25,473.64 86.59,473.64 90.94,475.40 95.28,484.21 99.62,476.38 103.97,474.62 108.31,476.58 112.66,492.62 117.00,512.19 121.34,521.59 125.69,498.49 130.03,475.99 134.38,454.85 138.72,475.99 143.06,497.51 147.41,519.04 151.75,520.61 156.10,521.98 160.44,523.93 164.78,509.26 169.13,481.86 173.47,453.48 177.82,444.29 182.16,448.59 186.50,451.53 190.85,459.35 195.19,465.81 199.54,471.49 203.88,473.44 208.22,479.90 212.57,496.54 216.91,513.17 221.26,519.63 225.60,497.51 229.94,478.34 234.29,471.10 238.63,494.58 242.98,514.15 247.32,529.80 251.66,527.26 256.01,511.21 260.35,496.54 264.70,481.86 269.04,480.29 273.38,479.32 277.73,482.45 282.07,476.38 286.42,462.29 290.76,456.81 295.10,458.38 299.45,470.12 303.79,481.86 308.14,484.79 312.48,489.30 316.82,474.03 321.17,462.88 325.51,444.09 329.86,455.05 334.20,458.38 338.54,463.27 342.89,458.96 347.23,459.94 351.58,461.70 355.92,461.90 360.26,462.68 364.61,469.73 368.95,471.10 373.30,475.99 377.64,479.90 381.98,474.62 386.33,466.79 390.67,446.63 395.02,444.68 399.36,456.42 403.70,471.10 408.05,498.49 412.39,510.23 416.74,520.41 421.08,521.00 425.42,523.93 429.77,525.89 434.11,524.52 438.46,518.06 442.80,513.76 447.14,511.21 451.49,512.58 455.83,514.15 460.18,508.28 464.52,497.51 468.86,477.95 473.21,465.23 477.55,451.92 481.90,459.35 486.24,475.40 490.58,492.62 494.93,507.30 499.27,511.21 503.62,513.56 507.96,512.19 512.30,508.86 516.65,500.45 520.99,484.79 525.34,469.14 529.68,455.83 534.02,450.55 538.37,453.09 542.71,457.40 547.06,465.23 551.40,464.64 555.74,471.10 560.09,475.40 564.43,481.27 568.78,473.05 573.12,462.29 577.46,465.62 581.81,471.49 586.15,482.45 590.50,480.49 594.84,470.12 599.18,461.31 603.53,452.50 607.87,472.07 612.22,493.60 616.56,514.54 620.90,522.37 625.25,517.48 629.59,508.28 633.94,500.06 638.28,502.99 642.62,507.89 646.97,485.77 651.31,464.25 655.66,452.50 660.00,462.29 664.34,468.75 668.69,464.83 673.03,460.33 677.38,460.33 681.72,471.10 686.06,474.42 690.41,466.79 694.75,467.57 699.10,459.94 703.44,471.68 707.78,481.27 712.13,503.97 716.47,512.19" fill="none" stroke="#1c1c1c" stroke-width="1.25" stroke-linejoin="miter"/>
<text x="1000" y="444.9" font-size="6.2" fill="#9e9e9e" font-weight="normal" text-anchor="start" textLength="18" lengthAdjust="spacingAndGlyphs">100.00</text>
<text x="1000" y="482.4" font-size="6.2" fill="#9e9e9e" font-weight="normal" text-anchor="start" textLength="15" lengthAdjust="spacingAndGlyphs">60.00</text>
<rect x="997" y="515.6" width="26" height="4.8" fill="#1426f0"/>
<text x="1003" y="520.4" font-size="6.6" fill="#ffffff" font-weight="normal" text-anchor="start" textLength="15.5" lengthAdjust="spacingAndGlyphs" stroke="#ffffff" stroke-width="0.3">20,00</text>
<rect x="997" y="455.5" width="26" height="8.5" fill="#e8332a"/>
<text x="1003" y="462.15" font-size="6.6" fill="#ffffff" font-weight="normal" text-anchor="start" textLength="15.5" lengthAdjust="spacingAndGlyphs" stroke="#ffffff" stroke-width="0.3">80,00</text>
<rect x="997" y="494.9" width="26" height="8.3" fill="#e84a42"/>
<text x="1003" y="501.44999999999993" font-size="6.6" fill="#ffffff" font-weight="normal" text-anchor="start" textLength="15.5" lengthAdjust="spacingAndGlyphs" stroke="#ffffff" stroke-width="0.3">38,87</text>
<rect x="997" y="507.9" width="26" height="8.2" fill="#050505"/>
<text x="1003" y="514.4" font-size="6.6" fill="#ffffff" font-weight="normal" text-anchor="start" textLength="15.5" lengthAdjust="spacingAndGlyphs" stroke="#ffffff" stroke-width="0.3">24,62</text>
<rect x="3" y="3" width="2" height="544" fill="#8b9095"/>
<rect x="1022.7" y="3" width="1.3" height="544" fill="#8b9095"/>
<rect x="3" y="546" width="1021" height="1" fill="#8b9095"/>
<rect x="3" y="3" width="1020.5" height="1" fill="#3b404d"/>
<rect x="3.2" y="415.7" width="2" height="11.5" fill="#1b3664"/>
<line x1="3.2" y1="283.4" x2="5.6" y2="283.4" stroke="#6fdc6f" stroke-width="0.8"/>
<rect x="21.1" y="547" width="0.8" height="1" fill="#9a9ea4"/>
<rect x="64.6" y="547" width="0.8" height="1" fill="#9a9ea4"/>
<rect x="120.6" y="547" width="0.8" height="1" fill="#9a9ea4"/>
<rect x="164.6" y="547" width="0.8" height="1" fill="#9a9ea4"/>
<rect x="212.1" y="547" width="0.8" height="1" fill="#9a9ea4"/>
<rect x="255.6" y="547" width="0.8" height="1" fill="#9a9ea4"/>
<rect x="303.1" y="547" width="0.8" height="1" fill="#9a9ea4"/>
<rect x="347.1" y="547" width="0.8" height="1" fill="#9a9ea4"/>
<rect x="403.6" y="547" width="0.8" height="1" fill="#9a9ea4"/>
<rect x="447.1" y="547" width="0.8" height="1" fill="#9a9ea4"/>
<rect x="492.1" y="547" width="0.8" height="1" fill="#9a9ea4"/>
<rect x="534.1" y="547" width="0.8" height="1" fill="#9a9ea4"/>
<rect x="577.6" y="547" width="0.8" height="1" fill="#9a9ea4"/>
<rect x="620.6" y="547" width="0.8" height="1" fill="#9a9ea4"/>
<rect x="668.1" y="547" width="0.8" height="1" fill="#9a9ea4"/>
<rect x="711.6" y="547" width="0.8" height="1" fill="#9a9ea4"/>
<rect x="785.6" y="547" width="0.8" height="1" fill="#9a9ea4"/>
<rect x="829.1" y="547" width="0.8" height="1" fill="#9a9ea4"/>
<rect x="876.6" y="547" width="0.8" height="1" fill="#9a9ea4"/>
<rect x="920.1" y="547" width="0.8" height="1" fill="#9a9ea4"/>
<rect x="964.1" y="547" width="0.8" height="1" fill="#9a9ea4"/>
</svg></body></html>
